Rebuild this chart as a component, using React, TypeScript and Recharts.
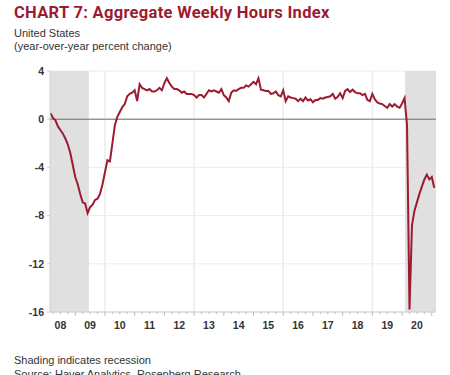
import {
  LineChart,
  Line,
  XAxis,
  YAxis,
  CartesianGrid,
  ReferenceArea,
  ReferenceLine,
} from "recharts";

// -------------------------
// THEME
// -------------------------
const THEME = {
  red: "#9b1b30",
  text: "#333333",
  shade: "#e0e0e0",
  grid: "#ececec",
  axis: "#cfcfcf",
  zero: "#6b6b6b",
};

// months counted from Jan 2008 (0 = Jan 2008); series starts Mar 2008
const START_MONTH = 2;

// y/y % change, monthly
const hours2008 = [0.5, 0.1, -0.1, -0.6, -0.9, -1.2, -1.6, -2.1, -2.8, -3.8];
const hours2009 = [-4.8, -5.4, -6.2, -6.9, -7.0, -7.8, -7.3, -7.1, -6.7, -6.6, -6.2, -5.4];
const hours2010 = [-4.4, -3.4, -3.5, -2.0, -0.5, 0.2, 0.6, 1.0, 1.25, 1.9, 2.1, 2.2];
const hours2011 = [2.4, 1.5, 2.9, 2.6, 2.5, 2.4, 2.5, 2.3, 2.3, 2.4, 2.6, 2.4];
const hours2012 = [3.0, 3.4, 3.0, 2.7, 2.5, 2.5, 2.4, 2.2, 2.3, 2.1, 2.1, 2.1];
const hours2013 = [2.0, 1.8, 2.0, 2.0, 1.8, 2.1, 2.4, 2.3, 2.4, 2.3, 2.2, 2.5];
const hours2014 = [2.0, 1.8, 1.5, 2.2, 2.4, 2.35, 2.5, 2.6, 2.6, 2.8, 2.7, 2.9];
const hours2015 = [3.1, 2.9, 3.4, 2.45, 2.4, 2.35, 2.35, 2.1, 2.15, 2.3, 2.0, 1.9];
const hours2016 = [2.4, 1.5, 1.9, 1.8, 1.75, 1.7, 1.5, 1.7, 1.5, 1.8, 1.55, 1.65];
const hours2017 = [1.4, 1.6, 1.6, 1.75, 1.7, 1.8, 1.85, 1.9, 2.1, 1.7, 1.85, 2.15];
const hours2018 = [1.75, 2.35, 2.5, 2.25, 2.45, 2.25, 2.15, 2.15, 2.0, 2.1, 1.6, 1.5];
const hours2019 = [2.1, 1.65, 1.4, 1.3, 1.25, 1.1, 0.95, 1.25, 1.05, 1.25, 1.05, 0.95];
const hours2020 = [1.3, 1.75, -0.5, -15.8, -8.8, -7.6, -6.9, -6.2, -5.6, -5.0, -4.6, -5.0];
const hours2021 = [-4.8, -5.7];

const yearLabels = ["08", "09", "10", "11", "12", "13", "14", "15", "16", "17", "18", "19", "20"];
const yTicks = [-16, -12, -8, -4, 0, 4];
const gridMonths = [24, 60, 96, 132]; // Jan 2010, 2013, 2016, 2019
const recessions = [
  [1.8, 17.5],
  [145.2, 157.7],
];
const X_DOMAIN: [number, number] = [1.8, 157.7];

const series = [
  ...hours2008, ...hours2009, ...hours2010, ...hours2011, ...hours2012,
  ...hours2013, ...hours2014, ...hours2015, ...hours2016, ...hours2017,
  ...hours2018, ...hours2019, ...hours2020, ...hours2021,
];
const data = series.map((v, i) => ({ m: START_MONTH + i, v }));

// quarterly tick positions, labels sit at mid-year
const quarterTicks: number[] = [];
for (let m = 3; m <= 156; m += 3) quarterTicks.push(m);

const XTick = (props: any) => {
  const { x, y, payload } = props;
  const m = payload.value as number;
  const isYear = m % 12 === 0;
  const isMid = m % 12 === 6;
  return (
    <g>
      <line x1={x} x2={x} y1={y} y2={y + (isYear ? 4 : 2)} stroke="#bdbdbd" />
      {isMid && (
        <text
          x={x}
          y={y + 17}
          textAnchor="middle"
          fontSize={10.5}
          fontWeight={700}
          fill={THEME.text}
          fontFamily="'Liberation Sans', Arial, sans-serif"
        >
          {yearLabels[(m - 6) / 12]}
        </text>
      )}
    </g>
  );
};

export default function App() {
  return (
    <div
      style={{
        position: "absolute",
        left: 0,
        top: 0,
        width: 450,
        height: 375,
        overflow: "hidden",
        background: "#fff",
        fontFamily: "'Liberation Sans', Arial, sans-serif",
        color: THEME.text,
      }}
    >
      {/* HEADER */}
      <div
        style={{
          position: "absolute",
          left: 14,
          top: 3,
          fontFamily: "Roboto, sans-serif",
          fontWeight: 700,
          fontSize: 16.5,
          letterSpacing: 0.3,
          color: THEME.red,
          whiteSpace: "nowrap",
        }}
      >
        CHART 7: Aggregate Weekly Hours Index
      </div>
      <div style={{ position: "absolute", left: 14, top: 27, fontSize: 11, lineHeight: "13px" }}>
        United States
        <br />
        (year-over-year percent change)
      </div>

      {/* CHART */}
      <div style={{ position: "absolute", left: 0, top: 0 }}>
        <LineChart
          width={450}
          height={340}
          data={data}
          margin={{ top: 71, right: 14, left: 20, bottom: 8 }}
        >
          <CartesianGrid stroke={THEME.grid} vertical={false} />
          {gridMonths.map((m) => (
            <ReferenceLine key={m} x={m} stroke={THEME.grid} strokeWidth={1.5} />
          ))}
          {recessions.map(([a, b]) => (
            <ReferenceArea key={a} x1={a} x2={b} fill={THEME.shade} fillOpacity={1} stroke="none" />
          ))}
          <ReferenceLine y={0} stroke={THEME.zero} strokeWidth={1} />
          <XAxis
            dataKey="m"
            type="number"
            domain={X_DOMAIN}
            allowDataOverflow
            ticks={quarterTicks}
            interval={0}
            tickSize={0}
            tickMargin={0}
            tick={<XTick />}
            height={20}
            stroke={THEME.axis}
          />
          <YAxis
            type="number"
            domain={[-16, 4]}
            ticks={yTicks}
            interval={0}
            width={30}
            tickSize={3}
            tickMargin={3}
            stroke={THEME.axis}
            tick={{
              fontSize: 10.5,
              fontWeight: 700,
              fill: THEME.text,
              fontFamily: "'Liberation Sans', Arial, sans-serif",
            }}
          />
          <Line
            type="linear"
            dataKey="v"
            stroke={THEME.red}
            strokeWidth={2}
            dot={false}
            isAnimationActive={false}
          />
        </LineChart>
      </div>

      {/* FOOTER */}
      <div style={{ position: "absolute", left: 14, top: 353, fontSize: 11, lineHeight: "14px" }}>
        Shading indicates recession
        <br />
        Source: Haver Analytics, Rosenberg Research
      </div>
    </div>
  );
}
